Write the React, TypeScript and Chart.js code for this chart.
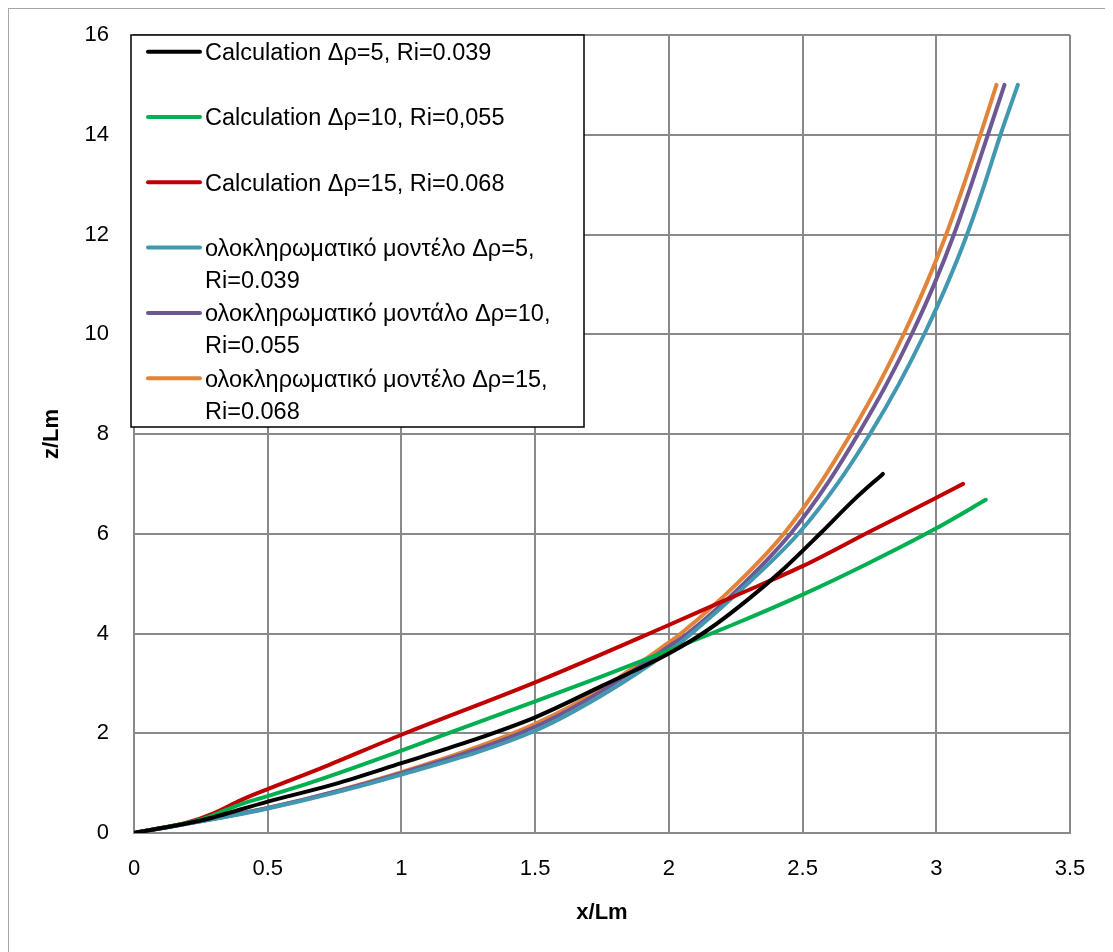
import React, { useEffect, useRef } from "react";
import { Chart, registerables } from "chart.js";

Chart.register(...registerables);

// ---------- data ----------
const seriesLabels = [
  "Calculation Δρ=5, Ri=0.039",
  "Calculation Δρ=10, Ri=0,055",
  "Calculation Δρ=15, Ri=0.068",
  "ολοκληρωματικό μοντέλο Δρ=5, Ri=0.039",
  "ολοκληρωματικό μοντάλο Δρ=10, Ri=0.055",
  "ολοκληρωματικό μοντέλο Δρ=15, Ri=0.068",
];
const seriesColors = ["#000000", "#00b050", "#c00000", "#4198b0", "#6e5894", "#e1843a"];

const calc5X = [0, 0.25, 0.5, 0.75, 1, 1.25, 1.5, 1.75, 2, 2.14, 2.3, 2.43, 2.565, 2.69, 2.8];
const calc5Y = [0, 0.25, 0.63, 0.98, 1.4, 1.83, 2.32, 2.95, 3.6, 4.05, 4.7, 5.3, 6.0, 6.67, 7.2];

const calc10X = [0, 0.25, 0.4, 0.5, 0.7, 1, 1.25, 1.5, 1.75, 2, 2.25, 2.5, 2.75, 3, 3.185];
const calc10Y = [0, 0.27, 0.58, 0.74, 1.08, 1.65, 2.15, 2.64, 3.14, 3.66, 4.2, 4.78, 5.42, 6.11, 6.68];

const calc15X = [0, 0.1, 0.2, 0.3, 0.4, 0.5, 0.7, 1, 1.5, 2, 2.25, 2.5, 2.75, 3, 3.1];
const calc15Y = [0, 0.1, 0.21, 0.4, 0.66, 0.88, 1.3, 1.97, 3.02, 4.17, 4.76, 5.35, 6.04, 6.72, 7.0];

const model5X = [0, 0.5, 1, 1.5, 1.75, 2, 2.085, 2.295, 2.484, 2.63, 2.752, 2.86, 2.955, 3.04, 3.115, 3.18, 3.24, 3.305];
const model5Y = [0, 0.49, 1.17, 2.05, 2.76, 3.64, 4, 5, 6, 7, 8, 9, 10, 11, 12, 13, 14, 15];

const model10X = [0, 0.5, 1, 1.5, 1.75, 2, 2.07, 2.28, 2.455, 2.592, 2.708, 2.814, 2.908, 2.992, 3.066, 3.131, 3.193, 3.255];
const model10Y = [0, 0.5, 1.2, 2.13, 2.85, 3.74, 4, 5, 6, 7, 8, 9, 10, 11, 12, 13, 14, 15];

const model15X = [0, 0.25, 0.5, 0.75, 1, 1.25, 1.5, 1.75, 2, 2.045, 2.255, 2.43, 2.565, 2.68, 2.785, 2.878, 2.962, 3.037, 3.103, 3.165, 3.225];
const model15Y = [0, 0.24, 0.5, 0.83, 1.22, 1.66, 2.19, 2.9, 3.82, 4, 5, 6, 7, 8, 9, 10, 11, 12, 13, 14, 15];

const seriesX = [calc5X, calc10X, calc15X, model5X, model10X, model15X];
const seriesY = [calc5Y, calc10Y, calc15Y, model5Y, model10Y, model15Y];

const xTitle = "x/Lm";
const yTitle = "z/Lm";

// ---------- styling ----------
const FONT = '"Liberation Sans", Arial, sans-serif';
const GRID = "#898989";

const legendPlugin = {
  id: "boxLegend",
  afterDraw(chart: any) {
    const { ctx, chartArea } = chart;
    const bx = chartArea.left - 3;
    const by = chartArea.top;
    const bw = 453;
    const bh = 392;
    ctx.save();
    ctx.fillStyle = "#ffffff";
    ctx.fillRect(bx, by, bw, bh);
    ctx.strokeStyle = "#000000";
    ctx.lineWidth = 1.5;
    ctx.strokeRect(bx, by, bw, bh);
    ctx.font = `23.5px ${FONT}`;
    ctx.textBaseline = "middle";
    ctx.textAlign = "left";
    chart.data.datasets.forEach((ds: any, i: number) => {
      const y = by + 16.7 + i * 65.3;
      ctx.strokeStyle = ds.borderColor;
      ctx.lineWidth = 4;
      ctx.lineCap = "round";
      ctx.beginPath();
      ctx.moveTo(bx + 17, y);
      ctx.lineTo(bx + 69, y);
      ctx.stroke();
      const label: string = ds.label;
      let lines = [label];
      if (label.includes("μοντ")) {
        const k = label.indexOf(", ");
        lines = [label.slice(0, k + 1), label.slice(k + 2)];
      }
      ctx.fillStyle = "#000000";
      lines.forEach((t, j) => ctx.fillText(t, bx + 74, y + 2 + j * 32));
    });
    ctx.restore();
  },
};

export default function App() {
  const ref = useRef<HTMLCanvasElement>(null);
  useEffect(() => {
    if (!ref.current) return;
    const datasets = seriesLabels.map((label, i) => ({
      label,
      data: seriesX[i].map((x, k) => ({ x, y: seriesY[i][k] })),
      borderColor: seriesColors[i],
      backgroundColor: seriesColors[i],
      borderWidth: 4,
      pointRadius: 0,
      showLine: true,
      fill: false,
      cubicInterpolationMode: "monotone" as const,
      borderCapStyle: "round" as const,
      borderJoinStyle: "round" as const,
    }));
    const chart = new Chart(ref.current, {
      type: "scatter",
      data: { datasets },
      plugins: [legendPlugin],
      options: {
        animation: false,
        responsive: false,
        devicePixelRatio: 1,
        layout: { padding: { left: 0, top: 26, right: 37, bottom: 0 } },
        plugins: { legend: { display: false }, tooltip: { enabled: false } },
        scales: {
          x: {
            type: "linear",
            min: 0,
            max: 3.5,
            ticks: {
              stepSize: 0.5,
              color: "#000",
              font: { family: FONT, size: 22 },
              padding: 23,
              callback: (v: any) => String(Math.round(Number(v) * 10) / 10),
            },
            grid: { color: GRID, lineWidth: 2, drawTicks: false },
            border: { color: GRID, width: 2 },
            title: {
              display: true,
              text: xTitle,
              color: "#000",
              font: { family: FONT, size: 22, weight: "bold" },
              padding: { top: 0, bottom: 26 },
            },
            afterFit: (s: any) => {
              s.height = 119;
              s.paddingLeft = 0;
              s.paddingRight = 0;
            },
          },
          y: {
            type: "linear",
            min: 0,
            max: 16,
            ticks: {
              stepSize: 2,
              color: "#000",
              font: { family: FONT, size: 22 },
              padding: 25,
              callback: (v: any) => String(v),
            },
            grid: { color: GRID, lineWidth: 2, drawTicks: false },
            border: { color: GRID, width: 2 },
            title: {
              display: true,
              text: yTitle,
              color: "#000",
              font: { family: FONT, size: 22, weight: "bold" },
              padding: { top: 30, bottom: 0 },
            },
            afterFit: (s: any) => {
              s.width = 125;
              s.paddingTop = 0;
              s.paddingBottom = 0;
            },
          },
        },
      },
    });
    return () => chart.destroy();
  }, []);
  return (
    <div
      style={{
        position: "relative",
        width: 1099,
        height: 944,
        borderLeft: "1px solid #a6a6a6",
        borderTop: "1px solid #a6a6a6",
        boxSizing: "border-box",
        background: "#fff",
      }}
    >
      <canvas ref={ref} width={1098} height={943} style={{ display: "block" }} />
    </div>
  );
}
